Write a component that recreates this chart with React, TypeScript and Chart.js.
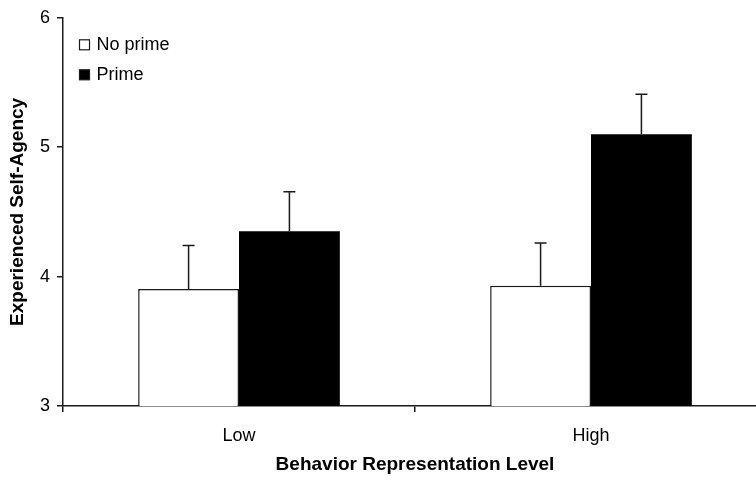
import React, { useEffect, useRef } from "react";
import { Chart, registerables } from "chart.js";

Chart.register(...registerables);

const categories = ["Low", "High"];
const noPrimeValues = [3.905, 3.93];
const primeValues = [4.35, 5.1];
const noPrimeErrors = [0.335, 0.33];
const primeErrors = [0.305, 0.31];
const yTicks = [3, 4, 5, 6];
const xTitle = "Behavior Representation Level";
const yTitle = "Experienced Self-Agency";

const FONT = "'Liberation Sans', Arial, sans-serif";

const errorBarPlugin = {
  id: "errorBars",
  afterDatasetsDraw(chart: any) {
    const ctx = chart.ctx;
    const yScale = chart.scales.y;
    ctx.save();
    ctx.strokeStyle = "#1a1a1a";
    ctx.lineWidth = 1.5;
    chart.data.datasets.forEach((ds: any, di: number) => {
      const meta = chart.getDatasetMeta(di);
      meta.data.forEach((bar: any, i: number) => {
        const v = ds.data[i];
        const e = ds.errors[i];
        const yTop = yScale.getPixelForValue(v + e);
        const x = bar.x;
        ctx.beginPath();
        ctx.moveTo(x, bar.y);
        ctx.lineTo(x, yTop);
        ctx.moveTo(x - 6, yTop);
        ctx.lineTo(x + 6, yTop);
        ctx.stroke();
      });
    });
    ctx.restore();
  },
};

const legendPlugin = {
  id: "insideLegend",
  afterDraw(chart: any) {
    const ctx = chart.ctx;
    const { left, top } = chart.chartArea;
    ctx.save();
    ctx.font = `18px ${FONT}`;
    ctx.textBaseline = "middle";
    ctx.textAlign = "left";
    chart.data.datasets.forEach((ds: any, di: number) => {
      const bx = left + 16.5;
      const by = top + 22 + di * 30;
      const size = 10;
      ctx.fillStyle = ds.backgroundColor;
      ctx.fillRect(bx, by, size, size);
      ctx.strokeStyle = "#1a1a1a";
      ctx.lineWidth = 1.2;
      ctx.strokeRect(bx, by, size, size);
      ctx.fillStyle = "#000";
      ctx.fillText(ds.label, bx + size + 7, by + size / 2 + 0.5);
    });
    ctx.restore();
  },
};

export default function App() {
  const ref = useRef<HTMLCanvasElement | null>(null);

  useEffect(() => {
    document.body.style.margin = "0";
    document.body.style.overflow = "hidden";
    const canvas = ref.current;
    if (!canvas) return;
    const chart = new Chart(canvas, {
      type: "bar",
      data: {
        labels: categories,
        datasets: [
          {
            label: "No prime",
            data: noPrimeValues,
            errors: noPrimeErrors,
            backgroundColor: "#ffffff",
            borderColor: "#1a1a1a",
            borderWidth: 1.5,
            borderSkipped: "bottom",
          } as any,
          {
            label: "Prime",
            data: primeValues,
            errors: primeErrors,
            backgroundColor: "#000000",
            borderColor: "#000000",
            borderWidth: 0,
          } as any,
        ],
      },
      options: {
        animation: false,
        responsive: false,
        devicePixelRatio: 1,
        layout: { padding: { left: 0, top: 17, right: 3, bottom: 0 } },
        datasets: {
          bar: { categoryPercentage: 0.573, barPercentage: 1 },
        },
        plugins: {
          legend: { display: false },
          tooltip: { enabled: false },
        },
        scales: {
          x: {
            type: "category",
            grid: {
              display: true,
              offset: true,
              drawOnChartArea: false,
              drawTicks: true,
              tickLength: 6,
              color: "#1a1a1a",
              lineWidth: 1.5,
            },
            border: { display: true, color: "#1a1a1a", width: 1.5 },
            ticks: {
              color: "#000",
              font: { family: FONT, size: 18 },
              padding: 13,
            },
            title: {
              display: true,
              text: xTitle,
              color: "#000",
              font: { family: FONT, size: 19, weight: "bold" },
              padding: { top: 0, bottom: 5 },
            },
            afterFit(scale: any) {
              scale.height = 75;
            },
          },
          y: {
            min: 3,
            max: 6,
            afterBuildTicks(scale: any) {
              scale.ticks = yTicks.map((v) => ({ value: v }));
            },
            grid: {
              display: true,
              drawOnChartArea: false,
              drawTicks: true,
              tickLength: 6,
              color: "#1a1a1a",
              lineWidth: 1.5,
            },
            border: { display: true, color: "#1a1a1a", width: 1.5 },
            ticks: {
              color: "#000",
              font: { family: FONT, size: 18 },
              padding: 7,
            },
            title: {
              display: true,
              text: yTitle,
              color: "#000",
              font: { family: FONT, size: 19, weight: "bold" },
              padding: { top: 6, bottom: 0 },
            },
            afterFit(scale: any) {
              scale.width = 63;
            },
          },
        },
      },
      plugins: [errorBarPlugin, legendPlugin],
    } as any);
    return () => chart.destroy();
  }, []);

  return (
    <div
      style={{
        position: "fixed",
        left: 0,
        top: 0,
        width: 756,
        height: 481,
        overflow: "hidden",
        background: "#fff",
      }}
    >
      <canvas ref={ref} width={770} height={481} style={{ display: "block" }} />
    </div>
  );
}
